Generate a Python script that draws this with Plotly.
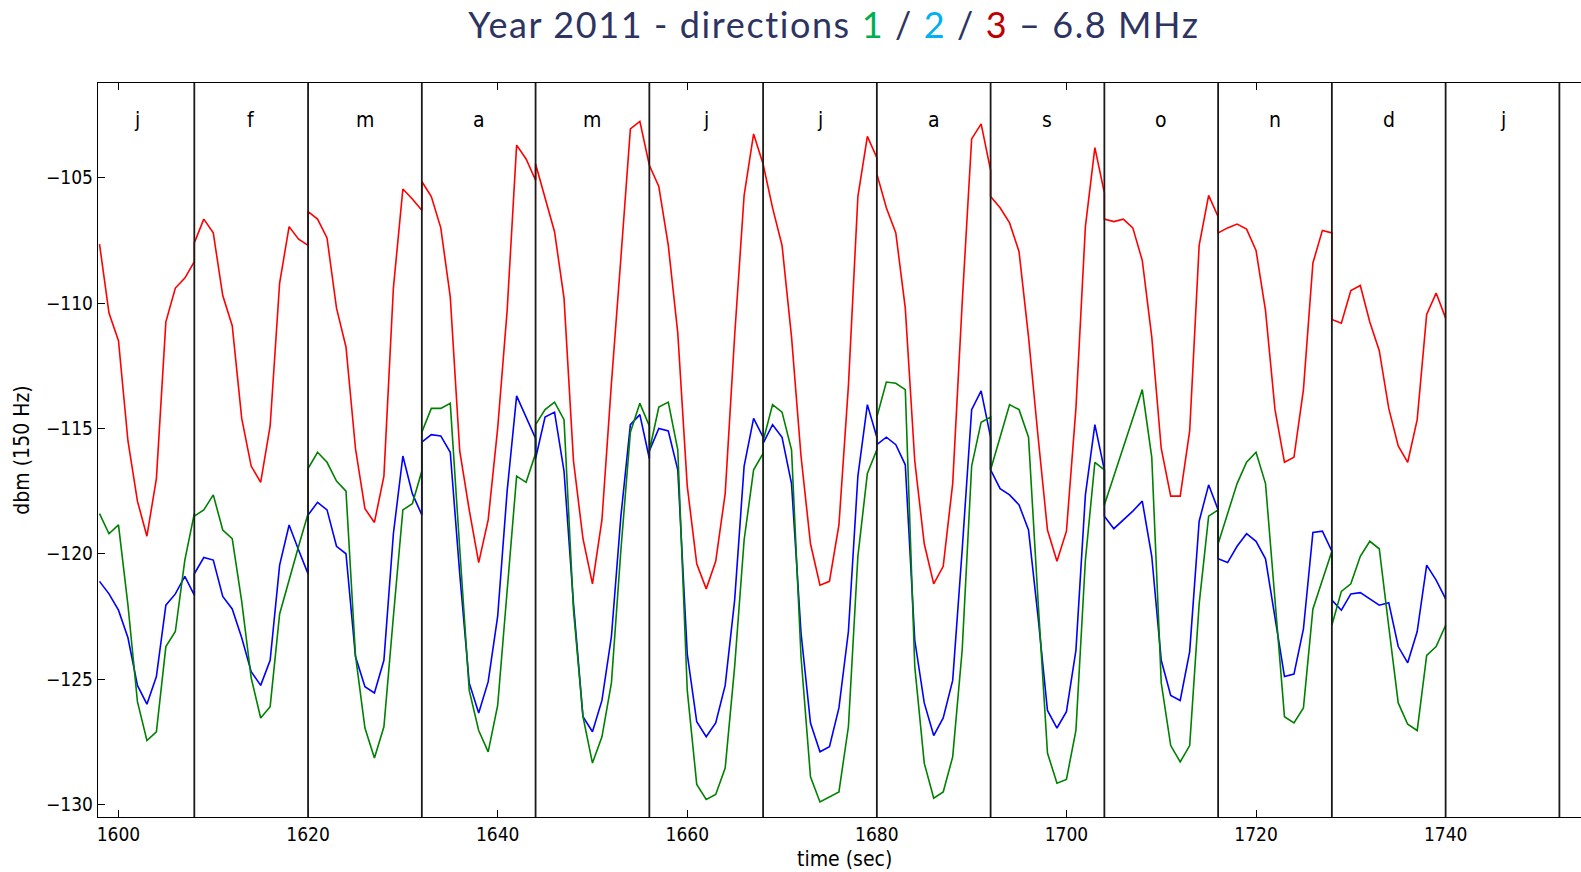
import plotly.graph_objects as go

# ---------------- data ----------------
month_labels = ["j", "f", "m", "a", "m", "j", "j", "a", "s", "o", "n", "d", "j"]
month_starts = [1596, 1608, 1620, 1632, 1644, 1656, 1668, 1680, 1692, 1704, 1716, 1728, 1740]
hour_offsets = list(range(13))  # 13 samples per month (offset 0..12)

# direction 3 (red)
dir3 = [
    [None, None, -107.65, -110.4, -111.5, -115.5, -117.9, -119.3, -117.0, -110.75, -109.4, -109.0, -108.35],
    [-107.6, -106.65, -107.2, -109.7, -110.9, -114.6, -116.5, -117.15, -114.9, -109.2, -106.95, -107.45, -107.7],
    [-106.35, -106.65, -107.4, -110.2, -111.75, -115.8, -118.2, -118.75, -116.9, -109.4, -105.45, -105.85, -106.3],
    [-105.15, -105.75, -107.0, -109.75, -115.9, -118.25, -120.35, -118.65, -115.0, -110.3, -103.7, -104.25, -105.1],
    [-104.45, -105.75, -107.15, -109.8, -116.3, -119.4, -121.2, -118.65, -113.2, -108.2, -103.05, -102.75, -104.5],
    [-104.5, -105.35, -107.7, -111.2, -117.3, -120.4, -121.4, -120.3, -117.6, -111.3, -105.7, -103.25, -104.45],
    [-104.45, -106.2, -107.7, -111.35, -116.1, -119.6, -121.25, -121.1, -118.85, -113.3, -105.75, -103.35, -104.2],
    [-104.85, -106.2, -107.2, -110.2, -116.3, -119.6, -121.2, -120.5, -117.2, -110.0, -103.45, -102.85, -104.7],
    [-105.75, -106.2, -106.8, -107.95, -111.35, -115.3, -119.05, -120.3, -119.1, -114.2, -106.95, -103.8, -105.6],
    [-106.65, -106.75, -106.65, -107.0, -108.3, -111.35, -115.8, -117.7, -117.7, -115.1, -107.7, -105.7, -106.55],
    [-107.2, -107.0, -106.85, -107.05, -107.9, -110.3, -114.25, -116.35, -116.15, -113.45, -108.4, -107.1, -107.2],
    [-110.65, -110.8, -109.5, -109.3, -110.75, -111.9, -114.2, -115.7, -116.35, -114.65, -110.45, -109.6, -110.6],
]

# direction 2 (blue)
dir2 = [
    [None, None, -121.1, -121.6, -122.25, -123.35, -125.25, -126.0, -124.9, -122.05, -121.6, -120.9, -121.65],
    [-120.8, -120.15, -120.25, -121.7, -122.2, -123.35, -124.7, -125.25, -124.25, -120.45, -118.85, -119.85, -120.8],
    [-118.45, -117.95, -118.25, -119.7, -120.0, -124.1, -125.3, -125.55, -124.25, -119.2, -116.1, -117.6, -118.45],
    [-115.55, -115.25, -115.3, -115.95, -120.8, -125.15, -126.35, -125.1, -122.5, -117.5, -113.7, -114.55, -115.4],
    [-116.2, -114.55, -114.35, -116.7, -122.0, -126.5, -127.1, -125.85, -123.3, -118.5, -114.85, -114.45, -116.2],
    [-115.9, -115.0, -115.1, -116.65, -124.0, -126.7, -127.3, -126.75, -125.25, -121.85, -116.5, -114.6, -115.35],
    [-115.6, -114.85, -115.35, -117.2, -123.15, -126.75, -127.9, -127.7, -126.15, -123.1, -116.9, -114.05, -115.35],
    [-115.65, -115.35, -115.65, -116.45, -123.45, -125.95, -127.25, -126.55, -125.05, -119.85, -114.25, -113.5, -115.35],
    [-116.65, -117.4, -117.65, -118.05, -119.05, -122.5, -126.25, -126.95, -126.3, -123.85, -117.65, -114.85, -116.65],
    [-118.5, -119.0, -118.65, -118.3, -117.9, -120.1, -124.25, -125.65, -125.85, -123.9, -118.7, -117.25, -118.25],
    [-120.2, -120.35, -119.7, -119.2, -119.5, -120.2, -122.5, -124.9, -124.8, -123.0, -119.15, -119.1, -119.9],
    [-121.85, -122.25, -121.6, -121.55, -121.8, -122.05, -121.95, -123.7, -124.35, -123.1, -120.45, -121.05, -121.8],
]

# direction 1 (green)
dir1 = [
    [None, None, -118.4, -119.2, -118.85, -122.05, -125.9, -127.45, -127.1, -123.7, -123.1, -120.25, -118.4],
    [-118.5, -118.25, -117.65, -119.05, -119.4, -121.9, -124.95, -126.55, -126.1, -122.4, -121.0, -119.7, -118.4],
    [-116.6, -115.95, -116.35, -117.1, -117.5, -124.05, -126.95, -128.15, -126.9, -122.5, -118.25, -118.0, -116.7],
    [-115.15, -114.2, -114.2, -114.0, -119.8, -125.45, -127.05, -127.9, -126.05, -121.4, -116.9, -117.15, -116.0],
    [-114.85, -114.25, -113.95, -114.65, -122.25, -126.5, -128.35, -127.3, -125.15, -119.85, -115.15, -114.0, -114.9],
    [-115.9, -114.15, -113.95, -115.85, -125.45, -129.2, -129.8, -129.6, -128.55, -124.5, -119.45, -116.65, -116.0],
    [-115.5, -114.05, -114.35, -115.85, -124.1, -128.9, -129.9, -129.7, -129.5, -126.9, -120.1, -116.8, -115.85],
    [-114.55, -113.15, -113.2, -113.45, -124.5, -128.35, -129.75, -129.5, -128.1, -123.85, -116.5, -114.75, -114.55],
    [-116.65, -115.35, -114.05, -114.25, -115.35, -121.85, -127.95, -129.15, -129.0, -127.05, -120.25, -116.35, -116.65],
    [-118.05, None, None, None, -113.45, -116.15, -125.15, -127.65, -128.3, -127.65, -122.0, -118.5, -118.25],
    [-119.6, -118.4, -117.2, -116.35, -115.95, -117.2, -122.0, -126.5, -126.75, -126.15, -122.2, -121.05, -119.9],
    [-122.85, -121.5, -121.2, -120.1, -119.5, -119.8, -122.9, -125.95, -126.8, -127.05, -124.05, -123.7, -122.85],
]

x_ticks = [1600, 1620, 1640, 1660, 1680, 1700, 1720, 1740]
y_ticks = [-130, -125, -120, -115, -110, -105]

TICK_FONT = "DejaVu Sans Condensed, DejaVu Sans"


def flatten(series):
    xs, ys = [], []
    for start, vals in zip(month_starts, series):
        for off, v in zip(hour_offsets, vals):
            xs.append(start + off)
            ys.append(v)
    return xs, ys


fig = go.Figure()
for series, color in [(dir2, "#0000ff"), (dir1, "#008000"), (dir3, "#ff0000")]:
    xs, ys = flatten(series)
    fig.add_trace(go.Scatter(x=xs, y=ys, mode="lines", connectgaps=True,
                             line=dict(color=color, width=1.6), showlegend=False,
                             hoverinfo="skip"))

# month boundary lines and labels
for i, start in enumerate(month_starts):
    fig.add_shape(type="line", xref="x", yref="paper", x0=start + 12, x1=start + 12,
                  y0=0, y1=1, line=dict(color="#1a1a1a", width=1.8), layer="above")
    fig.add_annotation(x=start + 6, y=-102.7, xref="x", yref="y", text=month_labels[i],
                       showarrow=False, font=dict(family=TICK_FONT, size=21, color="black"),
                       yanchor="middle", xanchor="center")

# x-axis title (placed like the reference, slightly right of the plot-area centre)
fig.add_annotation(x=(844 - 98) / 1483, y=-(859 - 817) / 734, xref="paper", yref="paper",
                   text="time (sec)", showarrow=False, xanchor="center", yanchor="middle",
                   font=dict(family=TICK_FONT, size=21, color="black"))

title_txt = ("<span style='letter-spacing:1.6px'>Year 2011 - directions "
             "<span style='color:#00b050'>1</span> / "
             "<span style='color:#00b0f0'>2</span> / "
             "<span style='color:#c00000'>3</span> \u2013 6.8 MHz</span>")

fig.update_layout(
    width=1581, height=872,
    margin=dict(l=98, r=0, t=83, b=55),
    paper_bgcolor="white", plot_bgcolor="white",
    title=dict(text=title_txt, x=834 / 1581, xanchor="center", y=1 - 25 / 872, yanchor="middle",
               font=dict(family="Lato", size=36, color="#2e3462")),
    xaxis=dict(range=[1597.84, 1754.28], tickvals=x_ticks, ticks="inside", ticklen=7,
               tickcolor="black", showline=True, linecolor="black", linewidth=1.4, mirror="ticks",
               showgrid=False, zeroline=False,
               tickfont=dict(family=TICK_FONT, size=19, color="black")),
    yaxis=dict(range=[-130.5, -101.22], tickvals=y_ticks, ticks="inside", ticklen=7,
               tickcolor="black", showline=True, linecolor="black", linewidth=1.4,
               showgrid=False, zeroline=False,
               tickfont=dict(family=TICK_FONT, size=19, color="black"),
               title=dict(text="dbm (150 Hz)", font=dict(family=TICK_FONT, size=21, color="black"),
                          standoff=10)),
)

fig.write_html("out.html")
